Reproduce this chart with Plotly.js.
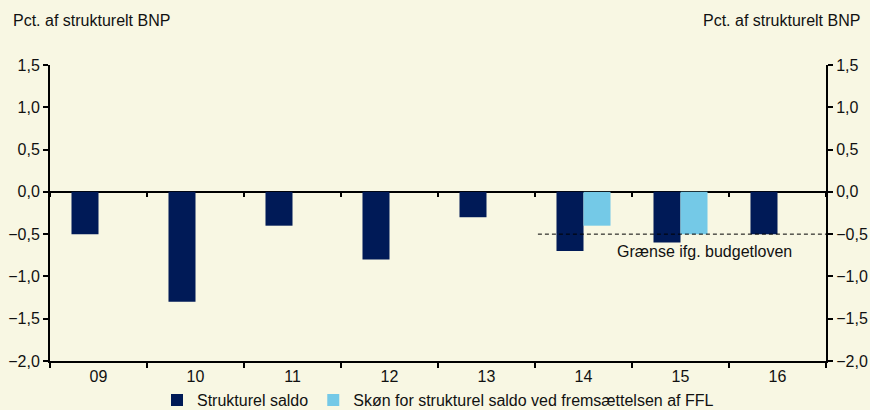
<!DOCTYPE html>
<html>
<head>
<meta charset="utf-8">
<script src="https://cdn.plot.ly/plotly-3.0.1.min.js"></script>
<style>html,body{margin:0;padding:0;background:#F8F7E3;}#chart{width:870px;height:410px;}</style>
</head>
<body>
<div id="chart"></div>
<script>
const categories = ["09","10","11","12","13","14","15","16"];
const strukturelSaldo = [-0.5, -1.3, -0.4, -0.8, -0.3, -0.7, -0.6, -0.5];
const skonFFL = [null, null, null, null, null, -0.4, -0.5, null];
const graenseValue = [-0.5];
const seriesNames = ["Strukturel saldo", "Skøn for strukturel saldo ved fremsættelsen af FFL"];
const yTickVals = [-2.0, -1.5, -1.0, -0.5, 0.0, 0.5, 1.0, 1.5];

const font = {family: "Liberation Sans, Arial, sans-serif", size: 16, color: "#111"};

const traces = [
  {type: "bar", x: categories, y: strukturelSaldo, name: seriesNames[0],
   marker: {color: "#001A57", line: {width: 0}}, hoverinfo: "skip"},
  {type: "bar", x: categories, y: skonFFL, name: seriesNames[1],
   marker: {color: "#74C9E7", line: {width: 0}}, hoverinfo: "skip"},
  {type: "scatter", mode: "none", x: categories, y: categories.map(() => null),
   xaxis: "x2", yaxis: "y2", showlegend: false, hoverinfo: "skip"}
];

const layout = {
  width: 870, height: 410,
  paper_bgcolor: "#F8F7E3", plot_bgcolor: "#F8F7E3",
  margin: {l: 50, r: 44, t: 65, b: 49, autoexpand: false},
  font: font,
  separators: ",.",
  barmode: "group",
  bargap: 0.443,
  bargroupgap: 0,
  showlegend: true,
  legend: {orientation: "h", xref: "paper", x: 0.5, xanchor: "center",
           yref: "container", y: 0.024, yanchor: "middle",
           font: font, bgcolor: "rgba(0,0,0,0)", traceorder: "normal", itemwidth: 30,
           tracegroupgap: 0},
  xaxis: {type: "category", categoryorder: "array", categoryarray: categories,
          range: [-0.5, 7.5], showgrid: false, zeroline: false,
          showline: true, linecolor: "#000", linewidth: 2,
          ticks: "outside", tickson: "boundaries", ticklen: 5, tickwidth: 2, tickcolor: "#000",
          tickfont: font, fixedrange: true, automargin: false},
  xaxis2: {type: "category", categoryorder: "array", categoryarray: categories,
           matches: "x", overlaying: "x", anchor: "free", position: 2/3.5,
           showgrid: false, zeroline: false, showline: false,
           ticks: "outside", tickson: "boundaries", ticklen: 4, tickwidth: 2, tickcolor: "#000",
           showticklabels: false, automargin: false},
  yaxis: {range: [-2.0, 1.5], tickvals: yTickVals, tickformat: ".1f",
          showgrid: false, zeroline: true, zerolinecolor: "#000", zerolinewidth: 2,
          showline: true, linecolor: "#000", linewidth: 2,
          ticks: "outside", ticklen: 5, tickwidth: 2, tickcolor: "#000",
          tickfont: font, fixedrange: true, automargin: false},
  yaxis2: {matches: "y", overlaying: "y", side: "right", anchor: "x",
           tickvals: yTickVals, tickformat: ".1f",
           showgrid: false, zeroline: false,
           showline: true, linecolor: "#000", linewidth: 2,
           ticks: "outside", ticklen: 5, tickwidth: 2, tickcolor: "#000",
           tickfont: font, automargin: false},
  shapes: [
    {type: "line", xref: "x", yref: "y", x0: 4.53, x1: 7.5,
     y0: graenseValue[0], y1: graenseValue[0],
     line: {color: "#000", width: 1, dash: "4px,3px"}}
  ],
  annotations: [
    {text: "Grænse ifg. budgetloven", xref: "x", yref: "y", x: 6.25, y: -0.70,
     showarrow: false, font: font, xanchor: "center", yanchor: "middle"},
    {text: "Pct. af strukturelt BNP", xref: "paper", yref: "paper", x: -0.0503, y: 1.152,
     showarrow: false, font: font, xanchor: "left", yanchor: "middle"},
    {text: "Pct. af strukturelt BNP", xref: "paper", yref: "paper", x: 1.0464, y: 1.152,
     showarrow: false, font: font, xanchor: "right", yanchor: "middle"}
  ]
};

Plotly.newPlot("chart", traces, layout, {displayModeBar: false, staticPlot: true});
</script>
</body>
</html>
